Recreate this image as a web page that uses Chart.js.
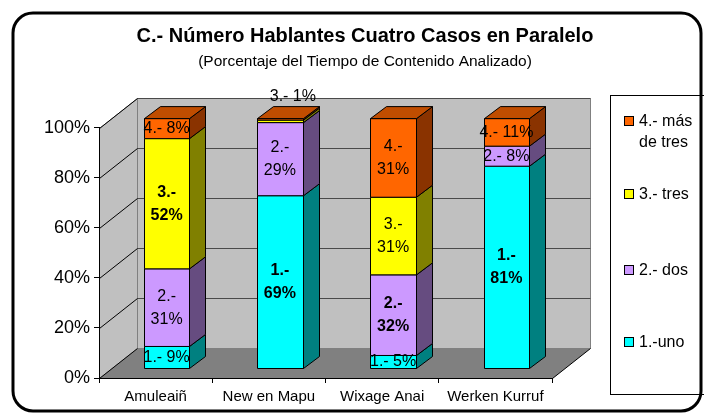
<!DOCTYPE html>
<html>
<head>
<meta charset="utf-8">
<script src="https://cdn.jsdelivr.net/npm/chart.js@4/dist/chart.umd.min.js"></script>
<style>
  body { margin: 0; background: #fff; }
  #wrap { width: 704px; height: 414px; }
</style>
</head>
<body>
<div id="wrap"><canvas id="chart" width="704" height="414"></canvas></div>
<script>
// Datos del gráfico
const categories = ['Amuleaiñ', 'New en Mapu', 'Wixage Anai', 'Werken Kurruf'];
const seriesNames = ['1.-uno', '2.- dos', '3.- tres', '4.- más de tres'];
const labelPrefix = ['1.-', '2.-', '3.-', '4.-'];
const uno = [9, 69.2, 5.4, 81];
const dos = [31, 29.2, 32.2, 8];
const tres = [52, 1, 31, 0];
const masDeTres = [8, 0.6, 31.4, 11];
const yTicks = [0, 20, 40, 60, 80, 100];

// Colores (cara frontal, lateral y superior)
const frontColors = ['#00FFFF', '#CC99FF', '#FFFF00', '#FF6600'];
const sideColors = ['#008080', '#664C80', '#808000', '#8A3300'];
const topColors = ['#00BFBF', '#9973BF', '#BFBF00', '#C04D00'];

const FONT = 'Arial, "Liberation Sans", sans-serif';
const DEPTH = { x: 38, y: -30 };      // profundidad de paredes y piso
const SHIFT = { x: 11, y: -9 };       // desplazamiento de la cara frontal de las barras
const BAR_DEPTH = { x: 16, y: -12 };  // profundidad de cada barra

function poly(ctx, pts, fill, stroke) {
    ctx.beginPath();
    ctx.moveTo(pts[0][0], pts[0][1]);
    for (let i = 1; i < pts.length; i++) ctx.lineTo(pts[i][0], pts[i][1]);
    ctx.closePath();
    if (fill) { ctx.fillStyle = fill; ctx.fill(); }
    if (stroke) { ctx.strokeStyle = stroke; ctx.lineWidth = 1; ctx.stroke(); }
}

function line(ctx, x1, y1, x2, y2, color) {
    ctx.beginPath();
    ctx.moveTo(x1, y1);
    ctx.lineTo(x2, y2);
    ctx.strokeStyle = color;
    ctx.lineWidth = 1;
    ctx.stroke();
}

const threeD = {
    id: 'threeD',
    afterLayout(chart) {
        // centrar título y subtítulo sobre todo el marco, no sólo sobre el área del gráfico
        chart.boxes.forEach(b => {
            if (b.options && typeof b.options.text === 'string' && b.options.text.length) {
                b.left = 0;
                b.right = 730;
            }
        });
    },
    beforeDraw(chart) {
        const ctx = chart.ctx;
        const ca = chart.chartArea;
        const ys = chart.scales.y;
        const L = Math.round(ca.left) + 0.5, R = Math.round(ca.right) + 0.5;
        const T = Math.round(ca.top) + 0.5, B = Math.round(ca.bottom) + 0.5;
        ctx.save();

        // marco exterior redondeado
        ctx.beginPath();
        ctx.roundRect(13, 13, 688, 398, 20);
        ctx.lineWidth = 3;
        ctx.strokeStyle = '#000';
        ctx.stroke();

        // pared lateral
        poly(ctx, [[L, B], [L + DEPTH.x, B + DEPTH.y], [L + DEPTH.x, T + DEPTH.y], [L, T]], '#C0C0C0', '#808080');
        // pared trasera
        poly(ctx, [[L + DEPTH.x, T + DEPTH.y], [R + DEPTH.x, T + DEPTH.y], [R + DEPTH.x, B + DEPTH.y], [L + DEPTH.x, B + DEPTH.y]], '#C0C0C0', '#808080');
        // piso
        poly(ctx, [[L, B], [R, B], [R + DEPTH.x, B + DEPTH.y], [L + DEPTH.x, B + DEPTH.y]], '#808080', null);
        line(ctx, R, B, R + DEPTH.x, B + DEPTH.y, '#000');

        // líneas de división
        yTicks.forEach(v => {
            const y = Math.round(ys.getPixelForValue(v)) + 0.5;
            if (v > 0) line(ctx, L + DEPTH.x, y + DEPTH.y, R + DEPTH.x, y + DEPTH.y, '#4A4A4A');
            line(ctx, L, y, L + DEPTH.x, y + DEPTH.y, '#000');
        });
        ctx.restore();
    },
    beforeDatasetDraw() {
        return false; // las barras se dibujan en 3D abajo
    },
    afterDatasetsDraw(chart) {
        const ctx = chart.ctx;
        const sets = chart.data.datasets;
        ctx.save();
        const labels = [];
        categories.forEach((cat, i) => {
            let topSeg = null;
            const values = sets.map(ds => ds.data[i]);
            const maxVal = Math.max(...values);
            sets.forEach((ds, s) => {
                const v = ds.data[i];
                if (!v) return;
                const el = chart.getDatasetMeta(s).data[i];
                const left = Math.round(el.x - el.width / 2 + SHIFT.x) + 0.5;
                const right = Math.round(el.x + el.width / 2 + SHIFT.x) + 0.5;
                const top = el.y + SHIFT.y;
                const bot = el.base + SHIFT.y;
                poly(ctx, [[left, bot], [right, bot], [right, top], [left, top]], frontColors[s], '#000');
                poly(ctx, [[right, bot], [right + BAR_DEPTH.x, bot + BAR_DEPTH.y], [right + BAR_DEPTH.x, top + BAR_DEPTH.y], [right, top]], sideColors[s], '#000');
                topSeg = { s, left, right, top };

                const pct = Math.round(v) + '%';
                const cx = el.x + SHIFT.x;
                if (v < 1) return;
                if (v < 3) {
                    labels.push({ lines: [labelPrefix[s] + ' ' + pct], x: cx + 13, y: null, bold: false, above: i });
                } else if (v >= 20) {
                    labels.push({ lines: [labelPrefix[s], pct], x: cx, y: (top + bot) / 2, bold: v === maxVal });
                } else {
                    labels.push({ lines: [labelPrefix[s] + ' ' + pct], x: cx, y: (top + bot) / 2, bold: v === maxVal });
                }
            });
            if (topSeg) {
                const { s, left, right, top } = topSeg;
                poly(ctx, [[left, top], [left + BAR_DEPTH.x, top + BAR_DEPTH.y], [right + BAR_DEPTH.x, top + BAR_DEPTH.y], [right, top]], topColors[s], '#000');
                labels.forEach(lb => { if (lb.above === i && lb.y === null) lb.y = top - 22; });
            }
        });

        // etiquetas de datos
        ctx.fillStyle = '#000';
        ctx.textAlign = 'center';
        ctx.textBaseline = 'middle';
        labels.forEach(lb => {
            ctx.font = (lb.bold ? 'bold ' : '') + '16px ' + FONT;
            const gap = 23;
            const y0 = lb.y - (lb.lines.length - 1) * gap / 2;
            lb.lines.forEach((t, k) => ctx.fillText(t, lb.x, y0 + k * gap));
        });
        ctx.restore();
    },
    afterDraw(chart) {
        // leyenda
        const ctx = chart.ctx;
        ctx.save();
        ctx.strokeStyle = '#000';
        ctx.lineWidth = 1;
        ctx.strokeRect(610.5, 95.5, 100, 299);
        const items = [
            { s: 3, y: 121, lines: ['4.- más', 'de tres'] },
            { s: 2, y: 194, lines: ['3.- tres'] },
            { s: 1, y: 270, lines: ['2.- dos'] },
            { s: 0, y: 342, lines: ['1.-uno'] }
        ];
        ctx.font = '16px ' + FONT;
        ctx.textAlign = 'left';
        ctx.textBaseline = 'middle';
        items.forEach(it => {
            ctx.fillStyle = frontColors[it.s];
            ctx.fillRect(624.5, it.y - 4.5, 9, 9);
            ctx.strokeRect(624.5, it.y - 4.5, 9, 9);
            ctx.fillStyle = '#000';
            it.lines.forEach((t, k) => ctx.fillText(t, 639, it.y + 1 + k * 21));
        });
        ctx.restore();
    }
};

const ctx = document.getElementById('chart').getContext('2d');
const chart = new Chart(ctx, {
    type: 'bar',
    data: {
        labels: categories,
        datasets: [
            { label: seriesNames[0], data: uno, backgroundColor: frontColors[0] },
            { label: seriesNames[1], data: dos, backgroundColor: frontColors[1] },
            { label: seriesNames[2], data: tres, backgroundColor: frontColors[2] },
            { label: seriesNames[3], data: masDeTres, backgroundColor: frontColors[3] }
        ]
    },
    options: {
        responsive: false,
        animation: false,
        events: [],
        layout: { padding: { left: 12, right: 152, top: 0, bottom: 0 } },
        datasets: { bar: { categoryPercentage: 0.8, barPercentage: 0.5 } },
        plugins: {
            legend: { display: false },
            tooltip: { enabled: false },
            title: {
                display: true,
                text: 'C.- Número Hablantes Cuatro Casos en Paralelo',
                color: '#000',
                font: { family: FONT, size: 20, weight: 'bold' },
                padding: { top: 24, bottom: 4 }
            },
            subtitle: {
                display: true,
                text: '(Porcentaje del Tiempo de Contenido Analizado)',
                color: '#000',
                font: { family: FONT, size: 15.5 },
                padding: { top: 0, bottom: 57 }
            }
        },
        scales: {
            x: {
                stacked: true,
                grid: { drawOnChartArea: false, color: '#000', tickLength: 5, offset: true },
                border: { color: '#000' },
                ticks: { color: '#000', font: { family: FONT, size: 15 }, padding: 5, maxRotation: 0 },
                afterFit(scale) { scale.height = 36; }
            },
            y: {
                stacked: true,
                min: 0,
                max: 100,
                grid: { drawOnChartArea: false, color: '#000', tickLength: 5 },
                border: { color: '#000' },
                ticks: {
                    stepSize: 20,
                    color: '#000',
                    font: { family: FONT, size: 18 },
                    padding: 4,
                    callback: v => v + '%'
                },
                afterFit(scale) { scale.width = 87; }
            }
        }
    },
    plugins: [threeD]
});
</script>
</body>
</html>
